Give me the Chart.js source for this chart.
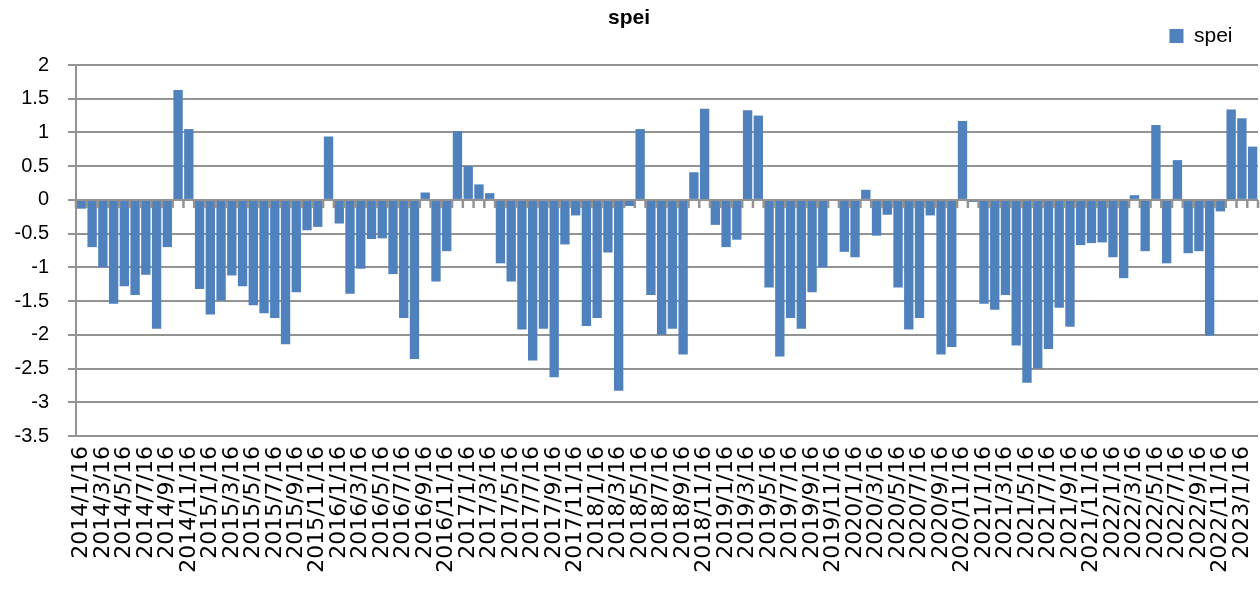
<!DOCTYPE html>
<html>
<head>
<meta charset="utf-8">
<script src="https://cdn.jsdelivr.net/npm/chart.js@4.4.1/dist/chart.umd.min.js"></script>
<style>
  html, body { margin: 0; padding: 0; background: #fff; }
  #wrap { width: 1260px; height: 590px; }
</style>
</head>
<body>
<div id="wrap"><canvas id="speiChart" width="1260" height="590"></canvas></div>
<script>
// monthly categories, 2014/1/16 .. 2023/2/16
const startYear = 2014;
const monthCount = 110;
const months = [];
for (let i = 0; i < monthCount; i++) {
    const y = startYear + Math.floor(i / 12);
    const m = (i % 12) + 1;
    months.push(y + '/' + m + '/16');
}

// spei values
const spei = [
    -0.13, -0.70, -1.00, -1.54, -1.28, -1.41, -1.11, -1.91, -0.70, 1.63, 1.05, -1.32,
    -1.70, -1.49, -1.12, -1.28, -1.56, -1.68, -1.75, -2.14, -1.37, -0.45, -0.40, 0.94,
    -0.35, -1.39, -1.02, -0.58, -0.57, -1.10, -1.75, -2.36, 0.11, -1.21, -0.76, 1.02,
    0.50, 0.23, 0.10, -0.94, -1.21, -1.92, -2.38, -1.91, -2.63, -0.66, -0.23, -1.87,
    -1.75, -0.78, -2.83, -0.09, 1.05, -1.41, -2.00, -1.91, -2.29, 0.41, 1.35, -0.37,
    -0.70, -0.59, 1.33, 1.25, -1.30, -2.32, -1.75, -1.91, -1.37, -1.00, 0, -0.77,
    -0.85, 0.15, -0.53, -0.22, -1.30, -1.92, -1.75, -0.23, -2.29, -2.18, 1.17, -0.03,
    -1.54, -1.63, -1.41, -2.16, -2.71, -2.50, -2.21, -1.60, -1.88, -0.67, -0.64, -0.63,
    -0.85, -1.16, 0.07, -0.76, 1.11, -0.94, 0.59, -0.79, -0.76, -2.01, -0.17, 1.34,
    1.21, 0.79
];

const yMin = -3.5;
const yMax = 2;
const yStep = 0.5;

const gridGray = '#939393';

// category axis crosses at 0 with small tick marks between categories
const zeroAxis = {
    id: 'zeroAxis',
    afterDatasetsDraw(chart) {
        const xs = chart.scales.x, ys = chart.scales.y;
        const ctx = chart.ctx;
        const y0 = Math.round(ys.getPixelForValue(0));
        const n = months.length;
        const step = xs.width / n;
        ctx.save();
        ctx.strokeStyle = gridGray;
        ctx.lineWidth = 2;
        ctx.beginPath();
        ctx.moveTo(xs.left, y0);
        ctx.lineTo(xs.right, y0);
        ctx.stroke();
        ctx.lineWidth = 2.5;
        ctx.beginPath();
        for (let i = 0; i <= n; i++) {
            const x = xs.left + i * step;
            ctx.moveTo(x, y0);
            ctx.lineTo(x, y0 + 8);
        }
        ctx.stroke();
        ctx.restore();
    }
};

new Chart(document.getElementById('speiChart'), {
    type: 'bar',
    data: {
        labels: months,
        datasets: [{
            label: 'spei',
            data: spei,
            xAxisID: 'x',
            yAxisID: 'y',
            backgroundColor: '#4f81bd',
            barPercentage: 0.87,
            categoryPercentage: 1.0
        }]
    },
    options: {
        responsive: false,
        animation: false,
        layout: { padding: { left: 0, right: 2, top: 0, bottom: 0 } },
        plugins: {
            title: {
                display: true,
                text: 'spei',
                color: '#000',
                font: { family: 'Liberation Sans', size: 21, weight: 'bold' },
                padding: { top: 5.4, bottom: -30.6 }
            },
            legend: {
                display: true,
                position: 'top',
                align: 'end',
                labels: {
                    color: '#000',
                    font: { family: 'Liberation Sans', size: 21 },
                    boxWidth: 14,
                    boxHeight: 14,
                    padding: 25.5
                }
            },
            tooltip: { enabled: false }
        },
        scales: {
            pad: {
                type: 'category',
                position: 'top',
                grid: { display: false },
                border: { display: false },
                ticks: { display: false },
                afterFit(s) { s.height = 8.5; }
            },
            x: {
                type: 'category',
                position: 'bottom',
                grid: { display: false, drawTicks: false },
                border: { display: false },
                ticks: {
                    autoSkip: false,
                    minRotation: 90,
                    maxRotation: 90,
                    padding: 10,
                    color: '#000',
                    font: { family: 'DejaVu Sans', size: 22 },
                    callback(value, index) {
                        return index % 2 === 0 ? months[index] : '';
                    }
                },
                afterFit(s) {
                    s.height = 154;
                    s.paddingLeft = 0;
                    s.paddingRight = 0;
                }
            },
            y: {
                min: yMin,
                max: yMax,
                grid: {
                    color: gridGray,
                    lineWidth: 2,
                    tickLength: 8
                },
                border: { display: true, color: gridGray, width: 2 },
                ticks: {
                    stepSize: yStep,
                    padding: 19,
                    color: '#000',
                    font: { family: 'Liberation Sans', size: 20 },
                    callback(value) { return String(value); }
                },
                afterFit(s) { s.width = 76; }
            }
        }
    },
    plugins: [zeroAxis]
});
</script>
</body>
</html>
